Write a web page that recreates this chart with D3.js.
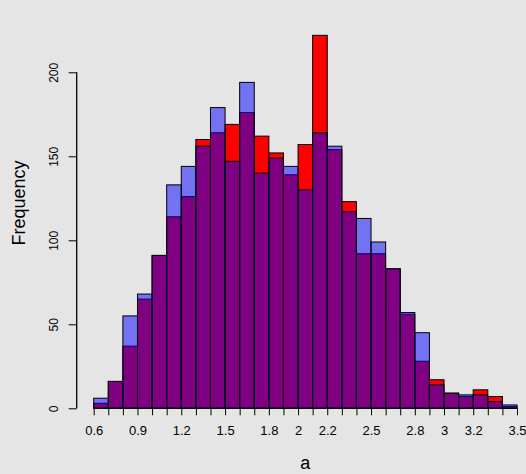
<!DOCTYPE html>
<html>
<head>
<meta charset="utf-8">
<script src="https://cdn.jsdelivr.net/npm/d3@7"></script>
<style>
  body { margin: 0; background: #e5e5e5; }
  svg { display: block; font-family: "Liberation Sans", Arial, sans-serif; }
</style>
</head>
<body>
<script>
// limiti dei bin (larghezza 0.1)
const breakStart = 0.6;
const breakEnd = 3.5;
const binWidth = 0.1;

// conteggi, un valore per bin da 0.6 a 3.5
const redCounts = [3, 16, 37, 65, 91, 114, 126, 160, 164, 169, 176, 162, 152, 139, 157,
  222, 154, 123, 92, 92, 83, 56, 28, 17, 9, 7, 11, 7, 1];
const blueCounts = [6, 16, 55, 68, 91, 133, 144, 156, 179, 147, 194, 140, 149, 144, 130,
  164, 156, 117, 113, 99, 83, 57, 45, 14, 9, 8, 8, 4, 2];

const xLabels = [0.6, 0.9, 1.2, 1.5, 1.8, 2, 2.2, 2.5, 2.8, 3, 3.2, 3.5];
const yTicks = [0, 50, 100, 150, 200];

const width = 526;
const height = 474;

var svg = d3.select("body")
  .append("svg")
  .attr("width", width)
  .attr("height", height)
  .style("background-color", "#e5e5e5");

const x = d3.scaleLinear().domain([breakStart, breakEnd]).range([93.7, 517]);
const y = d3.scaleLinear().domain([0, 200]).range([408.3, 72.3]);

const breaks = d3.range(redCounts.length + 1).map(i => +(breakStart + i * binWidth).toFixed(1));

function drawBars(counts, fill) {
  svg.append("g")
    .selectAll("rect")
    .data(counts)
    .join("rect")
    .attr("x", (d, i) => x(breaks[i]))
    .attr("width", (d, i) => x(breaks[i + 1]) - x(breaks[i]))
    .attr("y", d => y(d))
    .attr("height", d => y(0) - y(d))
    .attr("fill", fill)
    .attr("stroke", "#000")
    .attr("stroke-width", 1);
}

// prima il rosso, poi il blu semitrasparente sopra
drawBars(redCounts, "#ff0000");
drawBars(blueCounts, "rgba(0,0,255,0.5)");

// asse x
const xAxis = d3.axisBottom(x)
  .tickValues(breaks)
  .tickSize(7)
  .tickPadding(10)
  .tickFormat(d => xLabels.some(v => Math.abs(v - d) < 1e-9) ? d3.format("")(d) : "");

const gx = svg.append("g")
  .attr("transform", "translate(0," + y(0) + ")")
  .call(xAxis);
gx.select(".domain").attr("stroke", "#000").attr("stroke-width", 1.3).attr("d", "M" + x(breakStart) + ",0H" + x(breakEnd));
gx.selectAll(".tick line").attr("stroke", "#000");
gx.selectAll(".tick text").attr("font-size", 13).attr("fill", "#000").attr("font-family", "Liberation Sans, Arial, sans-serif");

// asse y
const yAxis = d3.axisLeft(y)
  .tickValues(yTicks)
  .tickSize(8)
  .tickFormat(d3.format("d"));

const gy = svg.append("g")
  .attr("transform", "translate(76.7,0)")
  .call(yAxis);
gy.select(".domain").attr("stroke", "#000").attr("stroke-width", 1.3).attr("d", "M0," + y(0) + "V" + y(200));
gy.selectAll(".tick line").attr("stroke", "#000");
gy.selectAll(".tick text")
  .attr("x", 0)
  .attr("dy", 0)
  .attr("transform", "translate(-19,0) rotate(-90)")
  .attr("text-anchor", "middle")
  .attr("font-size", 12)
  .attr("fill", "#000")
  .attr("font-family", "Liberation Sans, Arial, sans-serif");

// etichette degli assi
svg.append("text")
  .attr("x", (x(breakStart) + x(breakEnd)) / 2)
  .attr("y", 469)
  .attr("text-anchor", "middle")
  .attr("font-size", 18)
  .text("a");

svg.append("text")
  .attr("transform", "translate(25,203) rotate(-90)")
  .attr("text-anchor", "middle")
  .attr("font-size", 18)
  .text("Frequency");
</script>
</body>
</html>
